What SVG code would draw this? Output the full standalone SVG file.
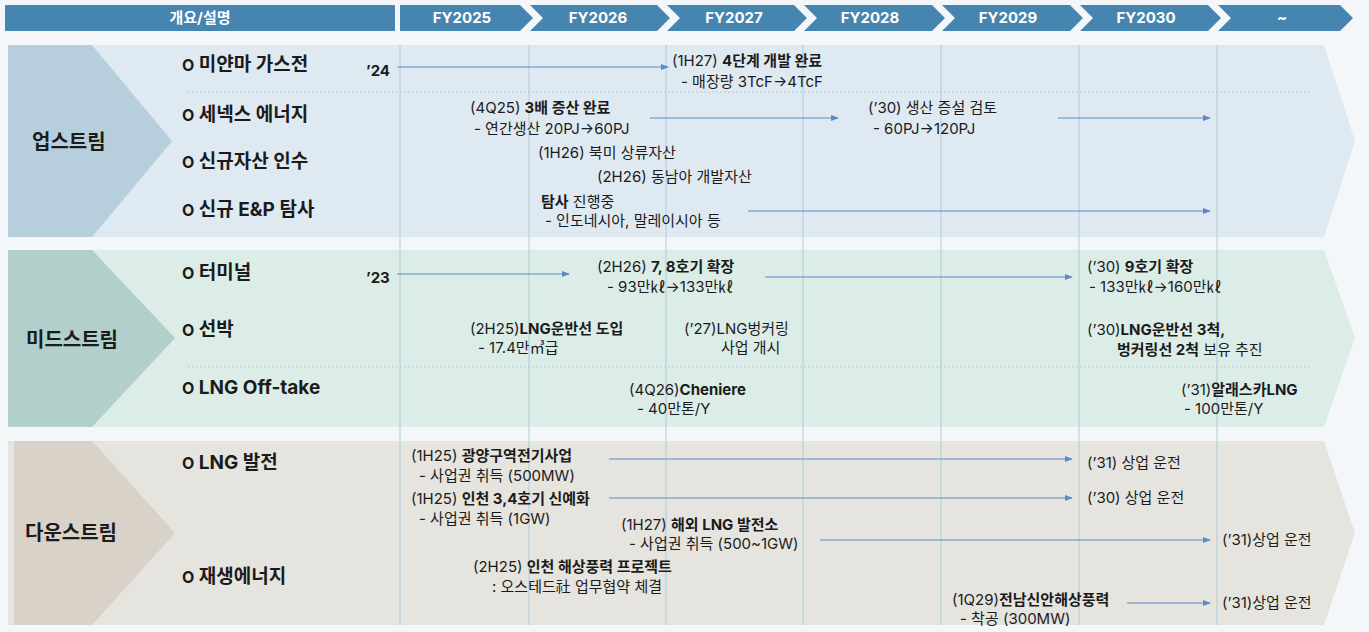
<svg xmlns="http://www.w3.org/2000/svg" width="1369" height="632" viewBox="0 0 1369 632">
<style>
text{font-family:Inter,"Noto Sans CJK KR","Noto Sans",sans-serif;fill:#1b1b1b}
.hd{font-size:15px;font-weight:700;fill:#fff;text-anchor:middle}
.hbox{fill:#4685b0}
.sec{font-size:20px;font-weight:700}
.item{font-size:19px;font-weight:700}
.bul{font-size:16px}
.t{font-size:15px;font-weight:400}
.b{font-weight:700}
.grid{stroke:#acccd9;stroke-width:1}
.dot{stroke:#b4cddb;stroke-width:1;stroke-dasharray:2 2}
.arr{stroke:#5b8bc9;stroke-width:1.2;fill:none;marker-end:url(#ah)}
</style>
<defs>
<marker id="ah" markerUnits="userSpaceOnUse" markerWidth="8" markerHeight="6" refX="7" refY="3" orient="auto">
<path d="M0,0 L8,3 L0,6 Z" fill="#5b8bc9"/>
</marker>
</defs>
<rect x="0" y="0" width="1369" height="632" fill="#f3f7f9"/>

<g id="header">
<g id="h-overview"><rect class="hbox" x="5" y="5" width="390" height="26"/><text class="hd" x="200" y="23">개요/설명</text></g>
<g id="h-fy2025"><polygon class="hbox" points="400,5 520,5 533,18 520,31 400,31"/><text class="hd" x="462" y="23">FY2025</text></g>
<g id="h-fy2026"><polygon class="hbox" points="530,5 657,5 670,18 657,31 530,31 543,18"/><text class="hd" x="598" y="23">FY2026</text></g>
<g id="h-fy2027"><polygon class="hbox" points="667,5 794,5 807,18 794,31 667,31 680,18"/><text class="hd" x="734" y="23">FY2027</text></g>
<g id="h-fy2028"><polygon class="hbox" points="804,5 932,5 945,18 932,31 804,31 817,18"/><text class="hd" x="870" y="23">FY2028</text></g>
<g id="h-fy2029"><polygon class="hbox" points="942,5 1070,5 1083,18 1070,31 942,31 955,18"/><text class="hd" x="1008" y="23">FY2029</text></g>
<g id="h-fy2030"><polygon class="hbox" points="1080,5 1208,5 1221,18 1208,31 1080,31 1093,18"/><text class="hd" x="1146" y="23">FY2030</text></g>
<g id="h-later"><polygon class="hbox" points="1218,5 1340,5 1353,18 1340,31 1218,31 1231,18"/><text class="hd" x="1282" y="23">~</text></g>
</g>

<g id="bands">
<g id="band-upstream">
<polygon points="8,45 1324,45 1355,141 1324,237 8,237" fill="#dfe9f1"/>
<polygon points="8,45 92,45 172,141 92,237 8,237" fill="#b7cfdd"/>
<text class="sec" x="32" y="149">업스트림</text>
</g>
<g id="band-midstream">
<polygon points="8,250 1324,250 1355,338 1324,427 8,427" fill="#dcede8"/>
<polygon points="8,250 92,250 175,338 92,427 8,427" fill="#b2cfcb"/>
<text class="sec" x="26" y="347">미드스트림</text>
</g>
<g id="band-downstream">
<polygon points="8,441 1324,441 1355,533 1324,625 8,625" fill="#e6e4df"/>
<polygon points="14,441 92,441 175,533 92,625 14,625" fill="#d9d2c9"/>
<text class="sec" x="25" y="540">다운스트림</text>
</g>
</g>

<g id="gridlines">
<line class="grid" x1="400" y1="45" x2="400" y2="625"/>
<line class="grid" x1="529" y1="45" x2="529" y2="625"/>
<line class="grid" x1="666" y1="45" x2="666" y2="625"/>
<line class="grid" x1="803" y1="45" x2="803" y2="625"/>
<line class="grid" x1="941" y1="45" x2="941" y2="625"/>
<line class="grid" x1="1079" y1="45" x2="1079" y2="625"/>
<line class="grid" x1="1217" y1="45" x2="1217" y2="625"/>
<line class="dot" x1="188" y1="92" x2="1312" y2="92"/>
<line class="dot" x1="188" y1="367" x2="1312" y2="367"/>
</g>

<g id="items">
<g id="i-myanmar"><text class="item" x="182" y="71"><tspan class="bul">O</tspan> 미얀마 가스전</text></g>
<g id="i-senex"><text class="item" x="182" y="121"><tspan class="bul">O</tspan> 세넥스 에너지</text></g>
<g id="i-newasset"><text class="item" x="182" y="168"><tspan class="bul">O</tspan> 신규자산 인수</text></g>
<g id="i-ep"><text class="item" x="182" y="216"><tspan class="bul">O</tspan> 신규 E&amp;P 탐사</text></g>
<g id="i-terminal"><text class="item" x="182" y="279"><tspan class="bul">O</tspan> 터미널</text></g>
<g id="i-ship"><text class="item" x="182" y="336"><tspan class="bul">O</tspan> 선박</text></g>
<g id="i-offtake"><text class="item" x="182" y="394"><tspan class="bul">O</tspan> LNG Off-take</text></g>
<g id="i-lngpower"><text class="item" x="182" y="469"><tspan class="bul">O</tspan> LNG 발전</text></g>
<g id="i-renew"><text class="item" x="182" y="583"><tspan class="bul">O</tspan> 재생에너지</text></g>
</g>

<g id="connectors">
<line class="arr" x1="397" y1="67" x2="668" y2="67"/>
<line class="arr" x1="650" y1="118" x2="838" y2="118"/>
<line class="arr" x1="1058" y1="118" x2="1210" y2="118"/>
<line class="arr" x1="748" y1="211" x2="1210" y2="211"/>
<line class="arr" x1="397" y1="274" x2="569" y2="274"/>
<line class="arr" x1="765" y1="277" x2="1072" y2="277"/>
<line class="arr" x1="609" y1="459" x2="1072" y2="459"/>
<line class="arr" x1="609" y1="498" x2="1072" y2="498"/>
<line class="arr" x1="820" y1="540" x2="1210" y2="540"/>
<line class="arr" x1="1127" y1="603" x2="1210" y2="603"/>
</g>

<g id="milestones">
<g id="m-24"><text class="t b" x="366" y="76">’24</text></g>
<g id="m-1h27"><text class="t" x="672" y="66">(1H27) <tspan class="b">4단계 개발 완료</tspan></text><text class="t" x="681" y="87">- 매장량 3TcF→4TcF</text></g>
<g id="m-4q25"><text class="t" x="470" y="113">(4Q25) <tspan class="b">3배 증산 완료</tspan></text><text class="t" x="474" y="134">- 연간생산 20PJ→60PJ</text></g>
<g id="m-30senex"><text class="t" x="868" y="113">(’30) 생산 증설 검토</text><text class="t" x="873" y="134">- 60PJ→120PJ</text></g>
<g id="m-1h26"><text class="t" x="538" y="158">(1H26) 북미 상류자산</text></g>
<g id="m-2h26"><text class="t" x="597" y="182">(2H26) 동남아 개발자산</text></g>
<g id="m-explore"><text class="t" x="541" y="207"><tspan class="b">탐사</tspan> 진행중</text><text class="t" x="545" y="226">- 인도네시아, 말레이시아 등</text></g>

<g id="m-23"><text class="t b" x="366" y="283">’23</text></g>
<g id="m-2h26t"><text class="t" x="597" y="272">(2H26) <tspan class="b">7, 8호기 확장</tspan></text><text class="t" x="607" y="292">- 93만㎘→133만㎘</text></g>
<g id="m-30t"><text class="t" x="1087" y="272">(’30) <tspan class="b">9호기 확장</tspan></text><text class="t" x="1089" y="292">- 133만㎘→160만㎘</text></g>
<g id="m-2h25s"><text class="t" x="470" y="334">(2H25)<tspan class="b">LNG운반선 도입</tspan></text><text class="t" x="478" y="353">- 17.4만㎥급</text></g>
<g id="m-27s"><text class="t" x="684" y="334">(’27)LNG벙커링</text><text class="t" x="721" y="353">사업 개시</text></g>
<g id="m-30s"><text class="t" x="1087" y="335">(’30)<tspan class="b">LNG운반선 3척,</tspan></text><text class="t" x="1117" y="355"><tspan class="b">벙커링선 2척</tspan> 보유 추진</text></g>
<g id="m-4q26"><text class="t" x="629" y="395">(4Q26)<tspan class="b">Cheniere</tspan></text><text class="t" x="637" y="414">- 40만톤/Y</text></g>
<g id="m-31a"><text class="t" x="1181" y="395">(’31)<tspan class="b">알래스카LNG</tspan></text><text class="t" x="1184" y="414">- 100만톤/Y</text></g>

<g id="m-gy"><text class="t" x="411" y="461">(1H25) <tspan class="b">광양구역전기사업</tspan></text><text class="t" x="419" y="481">- 사업권 취득 (500MW)</text></g>
<g id="m-31gy"><text class="t" x="1087" y="468">(’31) 상업 운전</text></g>
<g id="m-ic"><text class="t" x="411" y="504">(1H25) <tspan class="b">인천 3,4호기 신예화</tspan></text><text class="t" x="419" y="524">- 사업권 취득 (1GW)</text></g>
<g id="m-30ic"><text class="t" x="1087" y="503">(’30) 상업 운전</text></g>
<g id="m-ov"><text class="t" x="621" y="530">(1H27) <tspan class="b">해외 LNG 발전소</tspan></text><text class="t" x="629" y="549">- 사업권 취득 (500~1GW)</text></g>
<g id="m-31ov"><text class="t" x="1222" y="545">(’31)상업 운전</text></g>
<g id="m-wind"><text class="t" x="473" y="572">(2H25) <tspan class="b">인천 해상풍력 프로젝트</tspan></text><text class="t" x="492" y="592">: 오스테드社 업무협약 체결</text></g>
<g id="m-jn"><text class="t" x="952" y="605">(1Q29)<tspan class="b">전남신안해상풍력</tspan></text><text class="t" x="960" y="624">- 착공 (300MW)</text></g>
<g id="m-31jn"><text class="t" x="1222" y="608">(’31)상업 운전</text></g>
</g>
</svg>
